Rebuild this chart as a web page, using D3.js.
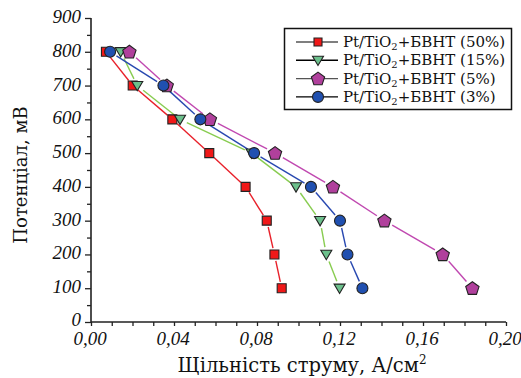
<!DOCTYPE html>
<html><head><meta charset="utf-8">
<script src="https://cdn.jsdelivr.net/npm/d3@7"></script>
<style>body{margin:0;background:#fff}svg{display:block}</style>
</head><body>
<svg id="c" width="521" height="378"></svg>
<script>
const potentials = [800,700,600,500,400,300,200,100];
const s50 = [0.0072,0.0201,0.0392,0.0570,0.0745,0.0847,0.0884,0.0919];
const s15 = [0.0143,0.0223,0.0429,0.0774,0.0988,0.1104,0.1134,0.1198];
const s5  = [0.0185,0.0365,0.0573,0.0887,0.1166,0.1414,0.1695,0.1838];
const s3  = [0.0092,0.0349,0.0527,0.0786,0.1060,0.1200,0.1236,0.1308];
const seriesNames = ["Pt/TiO₂+БВНТ (50%)","Pt/TiO₂+БВНТ (15%)","Pt/TiO₂+БВНТ (5%)","Pt/TiO₂+БВНТ (3%)"];
const xTickLabels = ["0,00","0,04","0,08","0,12","0,16","0,20"];
const yTickLabels = ["0","100","200","300","400","500","600","700","800","900"];

const series = [
  {name:seriesNames[0], x:s50, line:"#e8202a", fill:"#f01818", shape:"square", size:9, leg:"#555"},
  {name:seriesNames[1], x:s15, line:"#88cc50", fill:"#6cc08c", shape:"tri", size:11, leg:"#000"},
  {name:seriesNames[2], x:s5,  line:"#c048b0", fill:"#b0409c", shape:"pent", size:14, leg:"#555"},
  {name:seriesNames[3], x:s3,  line:"#2848b0", fill:"#2050b0", shape:"circle", size:11, leg:"#000"}
];

const svg = d3.select("#c");
const x = d3.scaleLinear().domain([0,0.2]).range([91,506]);
const y = d3.scaleLinear().domain([0,900]).range([322,18]);

function shapePath(shape, s){
  if(shape==="square") return d3.symbol(d3.symbolSquare, s*s)();
  if(shape==="circle") return d3.symbol(d3.symbolCircle, Math.PI*(s/2)*(s/2))();
  if(shape==="tri"){ const r=s/2; return `M${-r},${-r*0.75}L${r},${-r*0.75}L0,${r*0.95}Z`; }
  if(shape==="pent"){ const r=s/2; let p=[]; for(let i=0;i<5;i++){const a=-Math.PI/2+i*2*Math.PI/5; p.push([r*Math.cos(a), r*Math.sin(a)+0.5]);} return "M"+p.map(d=>d.join(",")).join("L")+"Z"; }
}

// lines with gaps near markers
series.forEach(s=>{
  const pts = s.x.map((v,i)=>[x(v), y(potentials[i])]);
  const gap = s.size/2 + 2;
  for(let i=0;i<pts.length-1;i++){
    const [x1,y1]=pts[i],[x2,y2]=pts[i+1];
    const L=Math.hypot(x2-x1,y2-y1); if(L<=2*gap) continue;
    const ux=(x2-x1)/L, uy=(y2-y1)/L;
    svg.append("line").attr("x1",x1+ux*gap).attr("y1",y1+uy*gap).attr("x2",x2-ux*gap).attr("y2",y2-uy*gap)
      .attr("stroke",s.line).attr("stroke-width",1.4);
  }
});
series.forEach(s=>{
  svg.append("g").selectAll("path").data(s.x).join("path")
    .attr("transform",(v,i)=>`translate(${x(v)},${y(potentials[i])})`)
    .attr("d",shapePath(s.shape,s.size)).attr("fill",s.fill).attr("stroke","#222").attr("stroke-width",1.1);
});

// axes
const axisCol="#222";
const gx = svg.append("g").attr("transform","translate(0,322)");
gx.call(d3.axisBottom(x).tickValues(d3.range(0,0.2001,0.01)).tickSize(4).tickFormat(""));
gx.select(".domain").remove();
gx.selectAll(".tick line").attr("stroke",axisCol).attr("stroke-width",1.3);
const gy = svg.append("g").attr("transform","translate(91,0)");
gy.call(d3.axisLeft(y).tickValues(d3.range(0,901,50)).tickSize(4).tickFormat(""));
gy.select(".domain").remove();
gy.selectAll(".tick line").attr("stroke",axisCol).attr("stroke-width",1.3)
  .attr("x2",(d)=> d%100===0 ? -6 : -4);
svg.append("path").attr("d","M91,18L91,322L506,322").attr("fill","none").attr("stroke",axisCol).attr("stroke-width",1.6);

const tickFont = "'Liberation Serif', 'DejaVu Serif', 'Times New Roman', serif";
const textFont = "'DejaVu Serif', 'Liberation Serif', serif";
svg.append("g").selectAll("text").data(xTickLabels).join("text")
  .attr("x",(d,i)=>x(i*0.04)-1).attr("y",345).attr("text-anchor","middle")
  .attr("font-family",tickFont).attr("font-style","italic").attr("font-size",19).attr("fill","#111").text(d=>d);
svg.append("g").selectAll("text").data(yTickLabels).join("text")
  .attr("x",81).attr("y",(d,i)=>y(i*100)+(i===0?4:5)).attr("text-anchor","end")
  .attr("font-family",tickFont).attr("font-style","italic").attr("font-size",19).attr("fill","#111").text(d=>d);

// axis titles
svg.append("text").attr("x",302).attr("y",372).attr("text-anchor","middle")
  .attr("font-family",textFont).attr("font-size",19.5).attr("fill","#111")
  .html('Щільність струму, А/см<tspan dy="-8" font-size="12">2</tspan>');
svg.append("text").attr("transform","translate(27,175) rotate(-90)").attr("text-anchor","middle")
  .attr("font-family",textFont).attr("font-size",18).attr("fill","#111").text("Потенціал, мВ");

// legend
svg.append("rect").attr("x",284.5).attr("y",28.5).attr("width",227).attr("height",81)
  .attr("fill","#fff").attr("stroke","#111").attr("stroke-width",1.5);
series.forEach((s,i)=>{
  const ly = 42 + i*18.3;
  svg.append("line").attr("x1",296).attr("x2",338).attr("y1",ly).attr("y2",ly).attr("stroke",s.leg).attr("stroke-width",1.4);
  svg.append("path").attr("transform",`translate(318,${ly})`).attr("d",shapePath(s.shape,s.shape==="square"?8:s.size))
    .attr("fill",s.fill).attr("stroke","#222").attr("stroke-width",1.1);
  const t = svg.append("text").attr("x",343).attr("y",ly+5).attr("font-family",textFont).attr("font-size",15).attr("fill","#111");
  const nm = s.name.split("₂");
  t.append("tspan").text(nm[0]);
  t.append("tspan").attr("font-size",10).attr("dy",3).text("2");
  t.append("tspan").attr("dy",-3).text(nm[1]);
});
</script>
</body></html>
